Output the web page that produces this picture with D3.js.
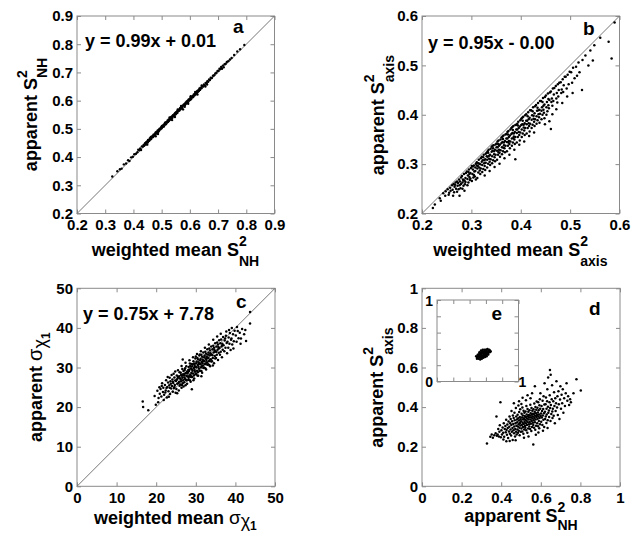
<!DOCTYPE html>
<html><head><meta charset="utf-8">
<script src="https://cdn.jsdelivr.net/npm/d3@7"></script>
<style>
body{margin:0;background:#fff}
text{font-family:"Liberation Sans",Arial,Helvetica,sans-serif;font-weight:bold;fill:#000}
</style>
</head><body>
<svg id="chart" width="632" height="533"></svg>
<script>
// ---------- tick labels ----------
const aTicks = [0.2,0.3,0.4,0.5,0.6,0.7,0.8,0.9];
const bTicks = [0.2,0.3,0.4,0.5,0.6];
const cTicks = [0,10,20,30,40,50];
const dTicks = [0,0.2,0.4,0.6,0.8,1];
const eTicks = [0,0.2,0.4,0.6,0.8,1];

// ---------- equations ----------
const equations = {a:"y = 0.99x + 0.01", b:"y = 0.95x - 0.00", c:"y = 0.75x + 7.78"};

// ---------- panel a: weighted mean S2NH vs apparent S2NH ----------
const aPts = [[0.325,0.331],[0.343,0.350],[0.352,0.357],[0.358,0.359],[0.366,0.374],[0.374,0.377],[0.381,0.389],[0.386,0.386],[0.392,0.399],[0.398,0.401],[0.403,0.410],[0.409,0.412],[0.414,0.417],[0.417,0.426],[0.421,0.424],[0.424,0.431],[0.427,0.425],[0.430,0.438],[0.433,0.437],[0.436,0.443],[0.438,0.440],[0.441,0.449],[0.443,0.444],[0.445,0.453],[0.447,0.451],[0.449,0.456],[0.451,0.452],[0.452,0.461],[0.454,0.459],[0.456,0.458],[0.458,0.466],[0.459,0.462],[0.461,0.469],[0.463,0.464],[0.465,0.472],[0.466,0.470],[0.468,0.475],[0.470,0.471],[0.471,0.479],[0.473,0.477],[0.475,0.481],[0.476,0.476],[0.478,0.486],[0.480,0.483],[0.481,0.489],[0.483,0.485],[0.485,0.490],[0.486,0.494],[0.488,0.489],[0.490,0.497],[0.491,0.493],[0.493,0.501],[0.495,0.498],[0.496,0.500],[0.498,0.506],[0.500,0.502],[0.501,0.510],[0.503,0.507],[0.505,0.509],[0.506,0.514],[0.508,0.508],[0.510,0.517],[0.511,0.515],[0.513,0.521],[0.515,0.516],[0.516,0.524],[0.518,0.522],[0.520,0.523],[0.521,0.530],[0.523,0.525],[0.525,0.533],[0.526,0.529],[0.528,0.531],[0.530,0.538],[0.531,0.534],[0.533,0.541],[0.535,0.537],[0.536,0.544],[0.538,0.539],[0.540,0.548],[0.541,0.545],[0.543,0.547],[0.545,0.553],[0.546,0.549],[0.548,0.556],[0.550,0.552],[0.551,0.559],[0.553,0.555],[0.555,0.563],[0.556,0.557],[0.558,0.566],[0.560,0.564],[0.561,0.568],[0.563,0.565],[0.565,0.573],[0.566,0.569],[0.568,0.576],[0.570,0.572],[0.571,0.580],[0.573,0.575],[0.575,0.582],[0.576,0.569],[0.578,0.586],[0.580,0.583],[0.581,0.588],[0.583,0.585],[0.585,0.593],[0.586,0.589],[0.588,0.596],[0.590,0.592],[0.591,0.599],[0.593,0.594],[0.595,0.603],[0.597,0.600],[0.598,0.605],[0.600,0.602],[0.602,0.610],[0.604,0.605],[0.606,0.613],[0.608,0.611],[0.610,0.617],[0.612,0.613],[0.614,0.622],[0.616,0.618],[0.618,0.625],[0.620,0.622],[0.622,0.630],[0.624,0.626],[0.626,0.634],[0.628,0.631],[0.630,0.637],[0.632,0.634],[0.634,0.643],[0.636,0.638],[0.638,0.646],[0.641,0.644],[0.644,0.651],[0.647,0.650],[0.650,0.657],[0.653,0.655],[0.656,0.663],[0.659,0.662],[0.662,0.669],[0.665,0.667],[0.668,0.675],[0.671,0.673],[0.674,0.681],[0.678,0.680],[0.682,0.688],[0.686,0.690],[0.690,0.696],[0.694,0.699],[0.698,0.705],[0.702,0.706],[0.705,0.713],[0.708,0.712],[0.711,0.719],[0.714,0.713],[0.717,0.724],[0.720,0.718],[0.723,0.729],[0.727,0.731],[0.731,0.737],[0.736,0.740],[0.742,0.746],[0.748,0.751],[0.757,0.762],[0.768,0.774],[0.778,0.782],[0.793,0.797],
[0.462,0.471],[0.487,0.482],[0.512,0.522],[0.537,0.531],[0.557,0.569],[0.582,0.578],[0.603,0.616],[0.627,0.622],[0.642,0.654],[0.661,0.657],[0.479,0.474],[0.528,0.540],[0.594,0.589],[0.619,0.631],[0.449,0.444],[0.547,0.542],[0.569,0.581],[0.655,0.650]];

// ---------- panel b: weighted mean S2axis vs apparent S2axis ----------
const bPts = [[0.222,0.211],[0.226,0.218],[0.238,0.226],[0.236,0.231],[0.243,0.241],[0.247,0.236],[0.248,0.245],
[0.252,0.249],[0.255,0.242],[0.257,0.252],[0.258,0.246],[0.254,0.238],
[0.261,0.257],[0.262,0.248],[0.264,0.260],[0.265,0.243],[0.266,0.254],[0.268,0.263],[0.269,0.250],[0.263,0.236],[0.267,0.258],
[0.271,0.265],[0.272,0.256],[0.273,0.262],[0.274,0.249],[0.275,0.269],[0.276,0.257],[0.277,0.265],[0.278,0.251],[0.279,0.273],[0.271,0.244],[0.276,0.236],[0.279,0.260],
[0.281,0.276],[0.282,0.263],[0.283,0.269],[0.284,0.256],[0.285,0.280],[0.286,0.267],[0.287,0.259],[0.288,0.272],[0.289,0.282],[0.282,0.250],[0.286,0.246],[0.288,0.264],[0.284,0.267],
[0.291,0.285],[0.292,0.270],[0.293,0.277],[0.294,0.263],[0.295,0.289],[0.296,0.274],[0.297,0.268],[0.298,0.282],[0.299,0.292],[0.292,0.257],[0.296,0.280],[0.298,0.271],[0.294,0.284],
[0.301,0.296],[0.302,0.280],[0.303,0.289],[0.304,0.273],[0.305,0.297],[0.306,0.285],[0.307,0.275],[0.308,0.293],[0.309,0.301],[0.301,0.266],[0.305,0.278],[0.308,0.286],[0.303,0.295],[0.309,0.269],
[0.311,0.304],[0.312,0.291],[0.313,0.296],[0.314,0.283],[0.315,0.309],[0.316,0.293],[0.317,0.287],[0.318,0.300],[0.319,0.312],[0.312,0.272],[0.316,0.301],[0.318,0.280],[0.314,0.302],[0.319,0.291],[0.311,0.297],
[0.321,0.315],[0.322,0.298],[0.323,0.308],[0.324,0.290],[0.325,0.319],[0.326,0.302],[0.327,0.296],[0.328,0.310],[0.329,0.321],[0.322,0.284],[0.326,0.308],[0.328,0.288],[0.324,0.314],[0.329,0.303],[0.321,0.305],[0.327,0.277],
[0.331,0.323],[0.332,0.309],[0.333,0.315],[0.334,0.301],[0.335,0.329],[0.336,0.311],[0.337,0.305],[0.338,0.319],[0.339,0.331],[0.332,0.293],[0.336,0.317],[0.338,0.298],[0.334,0.323],[0.339,0.310],[0.331,0.316],[0.337,0.286],[0.333,0.326],
[0.341,0.335],[0.342,0.316],[0.343,0.327],[0.344,0.308],[0.345,0.338],[0.346,0.320],[0.347,0.314],[0.348,0.329],[0.349,0.340],[0.342,0.302],[0.346,0.326],[0.348,0.306],[0.344,0.332],[0.349,0.319],[0.341,0.325],[0.347,0.294],[0.343,0.337],
[0.351,0.342],[0.352,0.327],[0.353,0.334],[0.354,0.319],[0.355,0.348],[0.356,0.329],[0.357,0.323],[0.358,0.340],[0.359,0.350],[0.352,0.309],[0.356,0.337],[0.358,0.315],[0.354,0.341],[0.359,0.328],[0.351,0.334],[0.357,0.301],[0.353,0.346],[0.355,0.324],
[0.361,0.354],[0.362,0.334],[0.363,0.345],[0.364,0.326],[0.365,0.358],[0.366,0.338],[0.367,0.332],[0.368,0.347],[0.369,0.360],[0.362,0.320],[0.366,0.344],[0.368,0.324],[0.364,0.351],[0.369,0.337],[0.361,0.343],[0.367,0.312],[0.363,0.356],[0.365,0.333],
[0.371,0.361],[0.372,0.345],[0.373,0.352],[0.374,0.337],[0.375,0.367],[0.376,0.347],[0.377,0.341],[0.378,0.358],[0.379,0.370],[0.372,0.326],[0.376,0.355],[0.378,0.332],[0.374,0.360],[0.379,0.346],[0.371,0.352],[0.377,0.319],[0.373,0.365],[0.375,0.344],
[0.381,0.373],[0.382,0.352],[0.383,0.363],[0.384,0.344],[0.385,0.377],[0.386,0.356],[0.387,0.350],[0.388,0.365],[0.389,0.379],[0.382,0.337],[0.386,0.362],[0.388,0.341],[0.384,0.369],[0.389,0.355],[0.381,0.361],[0.387,0.329],[0.383,0.375],[0.385,0.353],[0.389,0.310],
[0.391,0.380],[0.392,0.363],[0.393,0.370],[0.394,0.355],[0.395,0.386],[0.396,0.365],[0.397,0.359],[0.398,0.376],[0.399,0.389],[0.392,0.344],[0.396,0.373],[0.398,0.348],[0.394,0.378],[0.399,0.364],[0.391,0.370],[0.397,0.339],[0.393,0.382],
[0.401,0.392],[0.402,0.370],[0.403,0.381],[0.404,0.362],[0.405,0.396],[0.406,0.374],[0.407,0.368],[0.408,0.383],[0.409,0.399],[0.402,0.355],[0.406,0.380],[0.408,0.359],[0.404,0.388],[0.409,0.373],[0.401,0.379],[0.407,0.346],[0.403,0.394],
[0.411,0.401],[0.412,0.381],[0.413,0.388],[0.414,0.373],[0.415,0.405],[0.416,0.383],[0.417,0.377],[0.418,0.394],[0.419,0.409],[0.412,0.362],[0.416,0.391],[0.418,0.366],[0.414,0.397],[0.419,0.382],[0.411,0.388],[0.417,0.357],
[0.421,0.409],[0.422,0.390],[0.423,0.399],[0.424,0.380],[0.425,0.415],[0.426,0.392],[0.427,0.386],[0.428,0.403],[0.429,0.417],[0.422,0.373],[0.426,0.398],[0.428,0.377],[0.424,0.407],[0.429,0.391],[0.427,0.364],
[0.431,0.420],[0.432,0.397],[0.433,0.408],[0.434,0.389],[0.435,0.424],[0.436,0.401],[0.437,0.395],[0.438,0.410],[0.439,0.428],[0.432,0.382],[0.436,0.409],[0.438,0.384],[0.434,0.414],[0.439,0.402],
[0.441,0.428],[0.442,0.408],[0.443,0.415],[0.444,0.400],[0.445,0.434],[0.446,0.410],[0.447,0.404],[0.448,0.421],[0.449,0.436],[0.442,0.391],[0.446,0.418],[0.448,0.393],[0.444,0.426],[0.449,0.381],
[0.451,0.439],[0.452,0.415],[0.453,0.426],[0.454,0.407],[0.455,0.443],[0.456,0.419],[0.457,0.413],[0.458,0.430],[0.459,0.445],[0.452,0.400],[0.456,0.432],[0.458,0.387],
[0.461,0.447],[0.462,0.426],[0.463,0.433],[0.464,0.418],[0.465,0.453],[0.466,0.428],[0.467,0.441],[0.468,0.454],[0.461,0.371],[0.464,0.401],
[0.471,0.458],[0.472,0.433],[0.473,0.444],[0.474,0.425],[0.475,0.462],[0.476,0.437],[0.477,0.450],[0.478,0.465],[0.472,0.411],
[0.481,0.466],[0.482,0.444],[0.483,0.451],[0.485,0.472],[0.486,0.446],[0.487,0.460],[0.489,0.477],[0.484,0.424],
[0.491,0.477],[0.493,0.453],[0.495,0.481],[0.497,0.462],[0.499,0.487],[0.494,0.437],
[0.502,0.486],[0.504,0.465],[0.506,0.495],[0.509,0.474],[0.505,0.444],
[0.512,0.497],[0.514,0.479],[0.517,0.506],[0.519,0.486],
[0.524,0.450],[0.525,0.511],[0.531,0.520],[0.537,0.500],[0.541,0.530],[0.546,0.510],[0.549,0.541],[0.561,0.556],[0.578,0.548],[0.584,0.514],[0.590,0.587]];

// ---------- panel c: weighted mean sigma chi1 vs apparent ----------
const cPts = [[16.6,21.4],[16.7,20.0],[18.0,19.2],[19.6,22.8],[19.9,20.6],
[20.3,24.1],[20.6,22.3],[20.8,25.0],[20.5,21.2],[20.9,23.4],
[21.1,24.6],[21.3,22.7],[21.5,26.0],[21.7,23.8],[21.9,21.8],[21.4,25.3],[21.8,24.9],
[22.0,23.1],[22.2,25.6],[22.4,24.2],[22.5,26.8],[22.7,22.4],[22.8,25.1],[22.9,27.6],[22.3,23.7],[22.6,24.8],
[23.0,26.2],[23.1,24.0],[23.3,25.5],[23.4,27.4],[23.5,23.3],[23.6,26.5],[23.8,24.7],[23.9,28.1],[23.2,22.6],[23.7,25.9],[23.4,24.9],
[24.0,25.3],[24.1,27.0],[24.2,23.9],[24.3,26.1],[24.4,28.4],[24.5,24.8],[24.6,27.5],[24.7,25.6],[24.8,26.7],[24.9,23.6],[24.2,26.4],[24.6,25.1],[24.8,29.0],
[25.0,26.6],[25.1,24.6],[25.2,28.0],[25.3,25.9],[25.4,27.2],[25.5,29.3],[25.6,26.1],[25.7,24.2],[25.8,27.8],[25.9,25.4],[25.2,26.9],[25.5,27.6],[25.8,26.4],[25.3,23.5],[25.9,28.8],
[26.0,27.3],[26.1,25.7],[26.2,28.7],[26.3,26.5],[26.4,24.9],[26.5,27.9],[26.6,29.6],[26.7,26.0],[26.8,28.3],[26.9,25.2],[26.2,27.0],[26.4,30.4],[26.6,27.4],[26.8,26.8],[26.3,28.1],[26.9,29.1],[26.5,25.6],
[27.0,28.0],[27.1,26.3],[27.2,29.4],[27.3,27.1],[27.4,25.5],[27.5,28.6],[27.6,30.3],[27.7,26.7],[27.8,29.0],[27.9,27.7],[27.2,28.4],[27.4,31.2],[27.6,27.9],[27.8,25.9],[27.3,29.8],[27.9,28.5],[27.5,26.9],[27.1,27.5],[26.7,32.0],
[28.0,28.8],[28.1,26.9],[28.2,30.1],[28.3,27.8],[28.4,29.5],[28.5,31.0],[28.6,28.2],[28.7,26.4],[28.8,29.8],[28.9,28.6],[28.2,27.4],[28.4,31.8],[28.6,30.4],[28.8,27.6],[28.3,29.1],[28.9,30.9],[28.5,26.8],[28.1,29.4],[28.7,28.0],
[29.0,29.5],[29.1,27.6],[29.2,30.8],[29.3,28.5],[29.4,31.6],[29.5,29.9],[29.6,27.2],[29.7,30.6],[29.8,28.9],[29.9,32.3],[29.2,29.2],[29.4,26.8],[29.6,31.0],[29.8,30.1],[29.3,32.6],[29.9,28.3],[29.5,28.0],[29.1,30.3],[29.7,29.4],[29.0,24.5],
[30.0,30.2],[30.1,28.4],[30.2,31.5],[30.3,29.2],[30.4,32.4],[30.5,30.6],[30.6,27.9],[30.7,31.3],[30.8,29.7],[30.9,33.0],[30.2,30.0],[30.4,28.0],[30.6,32.0],[30.8,30.9],[30.3,33.4],[30.9,29.1],[30.5,28.8],[30.1,31.1],[30.7,30.2],[30.0,32.8],
[31.0,31.0],[31.1,29.2],[31.2,32.2],[31.3,30.0],[31.4,33.2],[31.5,31.4],[31.6,28.7],[31.7,32.0],[31.8,30.5],[31.9,33.8],[31.2,30.8],[31.4,29.1],[31.6,32.7],[31.8,31.6],[31.3,34.1],[31.9,29.9],[31.5,30.3],[31.1,31.8],[31.7,31.1],[31.0,33.3],[31.4,27.8],
[32.0,31.7],[32.1,30.0],[32.2,33.0],[32.3,30.8],[32.4,34.0],[32.5,32.2],[32.6,29.5],[32.7,32.8],[32.8,31.3],[32.9,34.6],[32.2,31.6],[32.4,29.8],[32.6,33.5],[32.8,32.4],[32.3,35.0],[32.9,30.7],[32.5,31.0],[32.1,32.6],[32.7,31.9],
[33.0,32.5],[33.1,30.8],[33.2,33.8],[33.3,31.6],[33.4,34.8],[33.5,33.0],[33.6,30.3],[33.7,33.6],[33.8,32.1],[33.9,35.3],[33.2,32.4],[33.4,30.6],[33.6,34.3],[33.8,33.2],[33.3,35.8],[33.9,31.5],[33.5,31.9],[33.1,33.3],
[34.0,33.3],[34.1,31.6],[34.2,34.6],[34.3,32.4],[34.4,35.5],[34.5,33.8],[34.6,31.1],[34.7,34.4],[34.8,32.9],[34.9,36.1],[34.2,33.1],[34.4,37.0],[34.6,35.0],[34.8,34.0],[34.3,30.5],[34.9,32.3],
[35.0,34.1],[35.1,32.4],[35.2,35.3],[35.3,33.2],[35.4,36.3],[35.5,34.5],[35.6,31.9],[35.7,35.2],[35.8,33.7],[35.9,36.9],[35.2,34.0],[35.4,37.8],[35.6,35.8],[35.8,34.8],
[36.0,34.9],[36.1,33.2],[36.2,36.1],[36.3,34.0],[36.4,37.1],[36.5,35.3],[36.6,32.6],[36.7,36.0],[36.8,34.5],[36.9,37.7],[36.3,38.5],[36.7,35.6],
[37.0,35.6],[37.2,34.1],[37.3,36.8],[37.5,35.0],[37.6,38.0],[37.8,36.2],[37.9,33.6],[37.4,37.3],[37.7,39.1],
[38.0,36.5],[38.2,35.0],[38.3,37.6],[38.5,36.0],[38.6,38.7],[38.8,34.4],[38.9,37.0],[38.4,39.5],
[39.0,37.3],[39.2,35.8],[39.4,38.4],[39.6,36.6],[39.8,39.3],[39.5,34.8],[39.1,40.0],
[40.1,38.1],[40.3,36.5],[40.6,39.2],[40.8,37.4],[40.4,40.2],
[41.1,38.8],[41.4,37.3],[41.7,39.7],[41.3,36.0],
[42.2,38.4],[42.7,36.7],[42.5,39.5],[43.7,41.1],[43.7,44.0]];

// ---------- panel d: apparent S2NH vs apparent S2axis ----------
const dPts = [[0.328,0.216],[0.345,0.250],[0.352,0.262],[0.358,0.245],
[0.365,0.258],[0.372,0.268],[0.376,0.353],[0.378,0.255],
[0.382,0.262],[0.385,0.290],[0.388,0.252],[0.391,0.275],[0.396,0.424],[0.398,0.248],[0.393,0.308],
[0.401,0.283],[0.404,0.262],[0.407,0.297],[0.410,0.271],[0.413,0.318],[0.415,0.250],[0.418,0.289],[0.411,0.236],
[0.421,0.305],[0.423,0.273],[0.425,0.336],[0.427,0.284],[0.429,0.260],[0.431,0.312],[0.433,0.295],[0.435,0.244],[0.437,0.327],[0.439,0.277],[0.426,0.228],
[0.441,0.301],[0.442,0.352],[0.444,0.266],[0.445,0.318],[0.447,0.287],[0.448,0.340],[0.450,0.256],[0.451,0.309],[0.452,0.380],[0.454,0.275],[0.455,0.328],[0.457,0.294],[0.458,0.234],[0.459,0.357],[0.443,0.229],
[0.461,0.315],[0.462,0.283],[0.463,0.345],[0.465,0.268],[0.466,0.302],[0.467,0.371],[0.468,0.333],[0.470,0.251],[0.471,0.290],[0.472,0.318],[0.474,0.395],[0.475,0.276],[0.476,0.352],[0.477,0.306],[0.478,0.262],[0.479,0.338],[0.464,0.420],[0.473,0.232],
[0.481,0.323],[0.482,0.287],[0.483,0.361],[0.484,0.302],[0.485,0.270],[0.486,0.344],[0.487,0.408],[0.488,0.314],[0.489,0.281],[0.490,0.332],[0.491,0.375],[0.492,0.296],[0.493,0.258],[0.494,0.350],[0.495,0.320],[0.496,0.389],[0.497,0.307],[0.498,0.339],[0.499,0.276],[0.490,0.430],
[0.501,0.328],[0.502,0.292],[0.503,0.366],[0.504,0.310],[0.505,0.348],[0.506,0.277],[0.507,0.398],[0.508,0.321],[0.509,0.358],[0.510,0.300],[0.511,0.337],[0.512,0.265],[0.513,0.382],[0.514,0.315],[0.515,0.344],[0.516,0.287],[0.517,0.371],[0.518,0.326],[0.519,0.355],[0.520,0.305],[0.508,0.447],[0.515,0.245],[0.502,0.416],
[0.521,0.336],[0.522,0.296],[0.523,0.378],[0.524,0.318],[0.525,0.350],[0.526,0.283],[0.527,0.405],[0.528,0.331],[0.529,0.363],[0.530,0.309],[0.531,0.342],[0.532,0.271],[0.533,0.390],[0.534,0.324],[0.535,0.354],[0.536,0.292],[0.537,0.376],[0.538,0.337],[0.539,0.360],[0.540,0.314],[0.525,0.435],[0.533,0.460],[0.538,0.252],
[0.541,0.347],[0.542,0.302],[0.543,0.384],[0.544,0.325],[0.545,0.357],[0.546,0.290],[0.547,0.412],[0.548,0.338],[0.549,0.369],[0.550,0.316],[0.551,0.349],[0.552,0.279],[0.553,0.395],[0.554,0.330],[0.555,0.361],[0.556,0.299],[0.557,0.381],[0.558,0.343],[0.559,0.366],[0.560,0.321],[0.548,0.445],[0.556,0.470],[0.562,0.211],
[0.561,0.352],[0.562,0.309],[0.563,0.389],[0.564,0.333],[0.565,0.365],[0.566,0.296],[0.567,0.418],[0.568,0.345],[0.569,0.376],[0.570,0.324],[0.571,0.356],[0.572,0.285],[0.573,0.401],[0.574,0.338],[0.575,0.369],[0.576,0.306],[0.577,0.386],[0.578,0.350],[0.579,0.428],[0.570,0.505],[0.575,0.260],
[0.581,0.360],[0.582,0.318],[0.583,0.397],[0.584,0.341],[0.585,0.373],[0.586,0.303],[0.587,0.425],[0.588,0.352],[0.589,0.384],[0.590,0.330],[0.591,0.362],[0.592,0.293],[0.593,0.409],[0.594,0.345],[0.595,0.440],[0.596,0.314],[0.597,0.392],[0.598,0.470],[0.599,0.355],[0.588,0.272],
[0.601,0.368],[0.602,0.326],[0.604,0.405],[0.605,0.347],[0.606,0.380],[0.608,0.310],[0.609,0.432],[0.610,0.358],[0.612,0.391],[0.613,0.336],[0.614,0.455],[0.616,0.369],[0.617,0.300],[0.618,0.413],[0.619,0.520],[0.611,0.280],
[0.621,0.376],[0.622,0.340],[0.624,0.415],[0.625,0.353],[0.626,0.448],[0.628,0.320],[0.629,0.392],[0.630,0.362],[0.632,0.430],[0.633,0.490],[0.635,0.334],[0.636,0.402],[0.637,0.550],[0.638,0.371],[0.634,0.295],
[0.641,0.383],[0.642,0.350],[0.644,0.425],[0.645,0.460],[0.646,0.588],[0.647,0.395],[0.649,0.330],[0.650,0.563],[0.651,0.410],[0.653,0.365],[0.655,0.440],[0.657,0.510],[0.658,0.378],[0.659,0.345],
[0.661,0.392],[0.663,0.430],[0.665,0.356],[0.667,0.475],[0.669,0.405],[0.671,0.318],[0.673,0.445],[0.675,0.380],[0.677,0.420],[0.679,0.530],
[0.682,0.398],[0.684,0.455],[0.686,0.360],[0.689,0.480],[0.691,0.415],[0.694,0.340],[0.697,0.438],[0.699,0.505],
[0.702,0.392],[0.705,0.462],[0.708,0.420],[0.711,0.490],[0.714,0.372],[0.718,0.445],
[0.722,0.405],[0.726,0.470],[0.730,0.520],[0.734,0.432],[0.738,0.455],[0.743,0.410],[0.748,0.440],[0.752,0.425],
[0.765,0.470],[0.780,0.541],[0.802,0.484]];

// ---------- inset e ----------
const ePts = [[0.50,0.31],[0.52,0.30],[0.53,0.33],[0.54,0.31],[0.55,0.35],[0.56,0.32],[0.57,0.34],[0.58,0.36],[0.59,0.33],[0.60,0.35],[0.61,0.37],[0.62,0.36],[0.63,0.38],[0.64,0.37],[0.51,0.33],[0.53,0.29],[0.55,0.30],[0.57,0.31],[0.59,0.38],[0.61,0.34],[0.63,0.35],[0.65,0.36],[0.49,0.30],[0.52,0.34],[0.54,0.36],[0.56,0.37],[0.58,0.39],[0.60,0.39],[0.62,0.40],[0.56,0.35],[0.58,0.33],[0.60,0.32],[0.54,0.33],[0.52,0.32],[0.50,0.29],[0.51,0.28],[0.53,0.27],[0.55,0.28],[0.57,0.29],[0.59,0.30],[0.61,0.31],[0.63,0.33],[0.65,0.38],[0.66,0.37],[0.64,0.39],[0.62,0.33],[0.56,0.39],[0.54,0.38],[0.52,0.36],[0.50,0.33],[0.48,0.31],[0.49,0.28],[0.57,0.37],[0.59,0.35],[0.55,0.32],[0.53,0.35],[0.61,0.39],[0.60,0.37],[0.58,0.31],[0.56,0.30]];

// ---------- drawing ----------
const svg = d3.select("#chart");
const BOX = "#8a8a8a";
const fmt1 = d3.format(".1f"), fmtInt = d3.format("d"), fmtG = d3.format("~g");

function richText(parent, segs){
  const t = parent.append("text");
  let prevW = 0;
  segs.forEach(s=>{
    const ts = t.append("tspan").text(s.t).attr("font-size", s.size);
    if (s.dy) ts.attr("dy", s.dy);
    if (s.back) ts.attr("dx", -prevW);
    if (s.weight) ts.attr("font-weight", s.weight);
    prevW = ts.node().getComputedTextLength();
  });
  return t;
}
function xLabel(segs, cx, baseline){
  const t = richText(svg, segs);
  const w = t.node().getBBox().width;
  t.attr("x", cx - w/2).attr("y", baseline);
}
function yLabel(segs, bx, cy){
  const t = richText(svg, segs);
  const w = t.node().getBBox().width;
  t.attr("transform", `translate(${bx},${cy + w/2}) rotate(-90)`);
}

function axes(g, x, y, size, ticks, fmt, showLabels, fs){
  const mk = (ax) => ax.tickValues(ticks).tickSizeInner(-4).tickSizeOuter(0);
  const gb = g.append("g").attr("transform",`translate(0,${size})`)
    .call(mk(d3.axisBottom(x)).tickFormat(showLabels?fmt:"").tickPadding(6));
  const gl = g.append("g").call(mk(d3.axisLeft(y)).tickFormat(showLabels?fmt:"").tickPadding(4));
  const gt = g.append("g").call(mk(d3.axisTop(x)).tickFormat(""));
  const gr = g.append("g").attr("transform",`translate(${size},0)`).call(mk(d3.axisRight(y)).tickFormat(""));
  [gb,gl,gt,gr].forEach(a=>{
    a.select(".domain").remove();
    a.selectAll("line").attr("stroke",BOX);
    a.attr("font-size",fs).attr("font-family",null);
    a.selectAll("text").attr("fill","#000");
  });
}

const panels = [
  {key:"a", pts:aPts, dom:[0.2,0.9], ticks:aTicks, fmt:fmt1, x0:77, y0:16, size:197.5, r:1.2, eq:[85,46.5], let:[233,33]},
  {key:"b", pts:bPts, dom:[0.2,0.6], ticks:bTicks, fmt:fmt1, x0:422, y0:16, size:197.5, r:1.25, eq:[428,49], let:[583,35]},
  {key:"c", pts:cPts, dom:[0,50], ticks:cTicks, fmt:fmtInt, x0:77, y0:288.3, size:198, r:1.25, eq:[83,320], let:[236,307.5]},
  {key:"d", pts:dPts, dom:[0,1], ticks:dTicks, fmt:fmtG, x0:422, y0:288.3, size:198, r:1.25, eq:null, let:[589,315]}
];

panels.forEach(p=>{
  const g = svg.append("g").attr("transform",`translate(${p.x0},${p.y0})`);
  const x = d3.scaleLinear().domain(p.dom).range([0,p.size]);
  const y = d3.scaleLinear().domain(p.dom).range([p.size,0]);
  g.append("rect").attr("width",p.size).attr("height",p.size).attr("fill","none").attr("stroke",BOX).attr("stroke-width",1);
  axes(g, x, y, p.size, p.ticks, p.fmt, true, 15);
  if (p.key !== "d"){
    g.append("line").attr("x1",x(p.dom[0])).attr("y1",y(p.dom[0])).attr("x2",x(p.dom[1])).attr("y2",y(p.dom[1]))
      .attr("stroke","#777").attr("stroke-width",1);
  }
  g.selectAll("circle.pt").data(p.pts).join("circle").attr("class","pt")
    .attr("cx",d=>x(d[0])).attr("cy",d=>y(d[1])).attr("r",p.r).attr("fill","#000");
  if (p.eq) svg.append("text").attr("x",p.eq[0]).attr("y",p.eq[1]).attr("font-size",18).text(equations[p.key]);
  svg.append("text").attr("x",p.let[0]).attr("y",p.let[1]).attr("font-size",19).text(p.key);
});

// inset e
(function(){
  const x0=437, y0=300, size=81.5;
  const g = svg.append("g").attr("transform",`translate(${x0},${y0})`);
  const x = d3.scaleLinear().domain([0,1]).range([0,size]);
  const y = d3.scaleLinear().domain([0,1]).range([size,0]);
  g.append("rect").attr("width",size).attr("height",size).attr("fill","#fff").attr("stroke",BOX).attr("stroke-width",1);
  axes(g, x, y, size, eTicks, fmtG, false, 13);
  g.selectAll("circle.pt").data(ePts).join("circle").attr("class","pt")
    .attr("cx",d=>x(d[0])).attr("cy",d=>y(d[1])).attr("r",1.2).attr("fill","#000");
  g.append("text").attr("x",x(0)-4).attr("y",y(1)).attr("dy","0.4em").attr("text-anchor","end").attr("font-size",14).text(fmtG(eTicks[5]));
  g.append("text").attr("x",x(0)-4).attr("y",y(0)).attr("dy","0.4em").attr("text-anchor","end").attr("font-size",14).text(fmtG(eTicks[0]));
  g.append("text").attr("x",x(1)+4).attr("y",y(0)).attr("dy","0.4em").attr("text-anchor","middle").attr("font-size",14).text(fmtG(eTicks[5]));
  svg.append("text").attr("x",491.5).attr("y",320).attr("font-size",19).text("e");
})();

// axis labels
xLabel([{t:"weighted mean S",size:18},{t:"2",size:14,dy:-10},{t:"NH",size:14,dy:20,back:true}], 176, 256);
yLabel([{t:"apparent S",size:18},{t:"2",size:14,dy:-10},{t:"NH",size:14,dy:20,back:true}], 37, 114.5);
xLabel([{t:"weighted mean S",size:18},{t:"2",size:14,dy:-10},{t:"axis",size:14,dy:20,back:true}], 521, 256);
yLabel([{t:"apparent S",size:18},{t:"2",size:14,dy:-10},{t:"axis",size:14,dy:20,back:true}], 384, 115);
xLabel([{t:"weighted mean ",size:18},{t:"σ",size:19,weight:"normal"},{t:"χ",size:18,weight:"normal",dy:3},{t:"1",size:12,dy:3}], 176, 524);
yLabel([{t:"apparent ",size:18},{t:"σ",size:20,weight:"normal"},{t:"χ",size:18,weight:"normal",dy:4},{t:"1",size:12,dy:4}], 42, 387);
xLabel([{t:"apparent S",size:18},{t:"2",size:14,dy:-10},{t:"NH",size:14,dy:18,back:true}], 521, 522);
yLabel([{t:"apparent S",size:18},{t:"2",size:14,dy:-10},{t:"axis",size:14,dy:20,back:true}], 383, 387.5);
</script>
</body></html>
